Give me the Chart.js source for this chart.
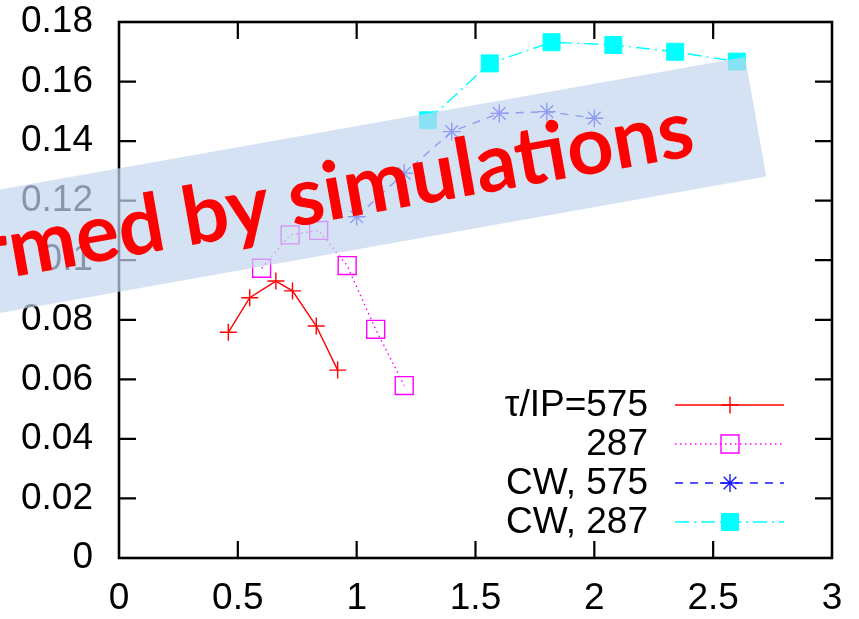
<!DOCTYPE html>
<html><head><meta charset="utf-8">
<script src="https://cdn.jsdelivr.net/npm/chart.js@4"></script>
<style>html,body{margin:0;padding:0;background:#fff;overflow:hidden;}</style>
</head><body>
<canvas id="c" width="859" height="619"></canvas>
<script>
// ---- data ----
const seriesNames = ['τ/IP=575', '287', 'CW, 575', 'CW, 287'];
const tau575X = [0.46, 0.55, 0.66, 0.73, 0.83, 0.92];
const tau575Y = [0.0758, 0.0874, 0.0930, 0.0897, 0.0779, 0.0631];
const tau287X = [0.60, 0.72, 0.84, 0.96, 1.08, 1.20];
const tau287Y = [0.0973, 0.1085, 0.1100, 0.0982, 0.0768, 0.0579];
const cw575X = [1.0, 1.2, 1.4, 1.6, 1.8, 2.0];
const cw575Y = [0.1146, 0.1292, 0.1432, 0.1493, 0.1499, 0.1477];
const cw287X = [1.30, 1.56, 1.82, 2.08, 2.34, 2.60];
const cw287Y = [0.1470, 0.1661, 0.1732, 0.1723, 0.1700, 0.1667];
const xTickLabels = ['0', '0.5', '1', '1.5', '2', '2.5', '3'];
const yTickLabels = ['0', '0.02', '0.04', '0.06', '0.08', '0.1', '0.12', '0.14', '0.16', '0.18'];
const bannerText = 'Confirmed by simulations';

const pts = (xs, ys) => xs.map((x, i) => ({x: x, y: ys[i]}));
const FONT = '"Liberation Sans", Arial, Helvetica, sans-serif';
const FS = 37;

const datasets = [
  {label: seriesNames[0], data: pts(tau575X, tau575Y), borderColor: '#ff0000', backgroundColor: '#ff0000',
   borderWidth: 1.4, borderDash: [], pointStyle: 'cross', pointRadius: 8.5, pointBorderWidth: 1.4},
  {label: seriesNames[1], data: pts(tau287X, tau287Y), borderColor: '#ff00ff', backgroundColor: 'rgba(0,0,0,0)',
   borderWidth: 1.4, borderDash: [1.5, 3.5], pointStyle: 'rect', pointRadius: 12.7, pointBorderWidth: 1.4},
  {label: seriesNames[2], data: pts(cw575X, cw575Y), borderColor: '#1818ff', backgroundColor: '#1818ff',
   borderWidth: 1.4, borderDash: [8, 7], pointStyle: 'star', pointRadius: 9, pointBorderWidth: 1.4},
  {label: seriesNames[3], data: pts(cw287X, cw287Y), borderColor: '#00ffff', backgroundColor: '#00ffff',
   borderWidth: 1.4, borderDash: [14, 5, 2, 5], pointStyle: 'rect', pointRadius: 12, pointBorderWidth: 1},
];
datasets.forEach(d => { d.showLine = true; d.fill = false; d.tension = 0; d.pointBackgroundColor = d.backgroundColor; d.pointBorderColor = d.borderColor; });

function drawMarker(ctx, ds, x, y) {
  ctx.save();
  ctx.setLineDash([]);
  ctx.strokeStyle = ds.borderColor;
  ctx.fillStyle = ds.backgroundColor;
  ctx.lineWidth = ds.pointBorderWidth;
  if (Chart.helpers && Chart.helpers.drawPoint) {
    Chart.helpers.drawPoint(ctx, {pointStyle: ds.pointStyle, radius: ds.pointRadius, rotation: 0, borderWidth: ds.pointBorderWidth}, x, y);
  }
  ctx.restore();
}

const deco = {
  id: 'deco',
  afterDraw(chart) {
    const ctx = chart.ctx, a = chart.chartArea;
    const xs = chart.scales.x, ys = chart.scales.y;
    ctx.save();
    // frame
    ctx.strokeStyle = '#000'; ctx.lineWidth = 2.6; ctx.setLineDash([]);
    ctx.strokeRect(a.left, a.top, a.right - a.left, a.bottom - a.top);
    // inward ticks on all four sides
    const TL = 17;
    ctx.lineWidth = 2.2;
    ctx.beginPath();
    xs.ticks.forEach(t => {
      const px = xs.getPixelForValue(t.value);
      if (px <= a.left + 1 || px >= a.right - 1) return;
      ctx.moveTo(px, a.bottom); ctx.lineTo(px, a.bottom - TL);
      ctx.moveTo(px, a.top); ctx.lineTo(px, a.top + TL);
    });
    ys.ticks.forEach(t => {
      const py = ys.getPixelForValue(t.value);
      if (py <= a.top + 1 || py >= a.bottom - 1) return;
      ctx.moveTo(a.left, py); ctx.lineTo(a.left + TL, py);
      ctx.moveTo(a.right, py); ctx.lineTo(a.right - TL, py);
    });
    ctx.stroke();
    // legend
    const rowY = [405, 444, 483, 522];
    ctx.font = FS + 'px ' + FONT;
    ctx.textAlign = 'right'; ctx.textBaseline = 'middle';
    chart.data.datasets.forEach((ds, i) => {
      const y = rowY[i];
      ctx.fillStyle = '#000';
      ctx.fillText(ds.label, 648, y + 1);
      ctx.save();
      ctx.strokeStyle = ds.borderColor; ctx.lineWidth = ds.borderWidth;
      ctx.setLineDash(ds.borderDash);
      ctx.beginPath(); ctx.moveTo(675, y); ctx.lineTo(784, y); ctx.stroke();
      ctx.restore();
      drawMarker(ctx, ds, 730, y);
    });
    // banner overlay
    const th = Math.atan(0.178);
    ctx.save();
    ctx.translate(745, 57);
    ctx.rotate(-th);
    ctx.fillStyle = 'rgba(195,214,238,0.7)';
    ctx.fillRect(-1200, 0, 1200, 121.5);
    ctx.restore();
    ctx.save();
    ctx.translate(697, 155);
    ctx.rotate(-th);
    ctx.fillStyle = '#ff0000';
    ctx.font = 'bold 81px Lato, "Open Sans", sans-serif';
    ctx.textAlign = 'right'; ctx.textBaseline = 'alphabetic';
    ctx.fillText(bannerText, 0, 0);
    ctx.restore();
    ctx.restore();
  }
};

new Chart(document.getElementById('c'), {
  type: 'scatter',
  data: {datasets: datasets},
  options: {
    responsive: false, animation: false, events: [],
    layout: {padding: {left: 0, top: 22, right: 27, bottom: 0}},
    plugins: {legend: {display: false}, tooltip: {enabled: false}},
    scales: {
      x: {type: 'linear', min: 0, max: 3,
          grid: {display: false, drawTicks: false}, border: {display: false},
          ticks: {stepSize: 0.5, padding: 19, color: '#000', font: {family: FONT, size: FS},
                  maxRotation: 0, autoSkip: false,
                  callback: (v, i) => xTickLabels[i]},
          afterFit: s => { s.height = 61; s.paddingLeft = 0; s.paddingRight = 0; }},
      y: {type: 'linear', min: 0, max: 0.18,
          grid: {display: false, drawTicks: false}, border: {display: false},
          ticks: {stepSize: 0.02, padding: 26, color: '#000', font: {family: FONT, size: FS}, autoSkip: false,
                  callback: (v, i) => yTickLabels[i]},
          afterFit: s => { s.width = 119; s.paddingTop = 0; s.paddingBottom = 0; }}
    }
  },
  plugins: [deco]
});
</script>
</body></html>
